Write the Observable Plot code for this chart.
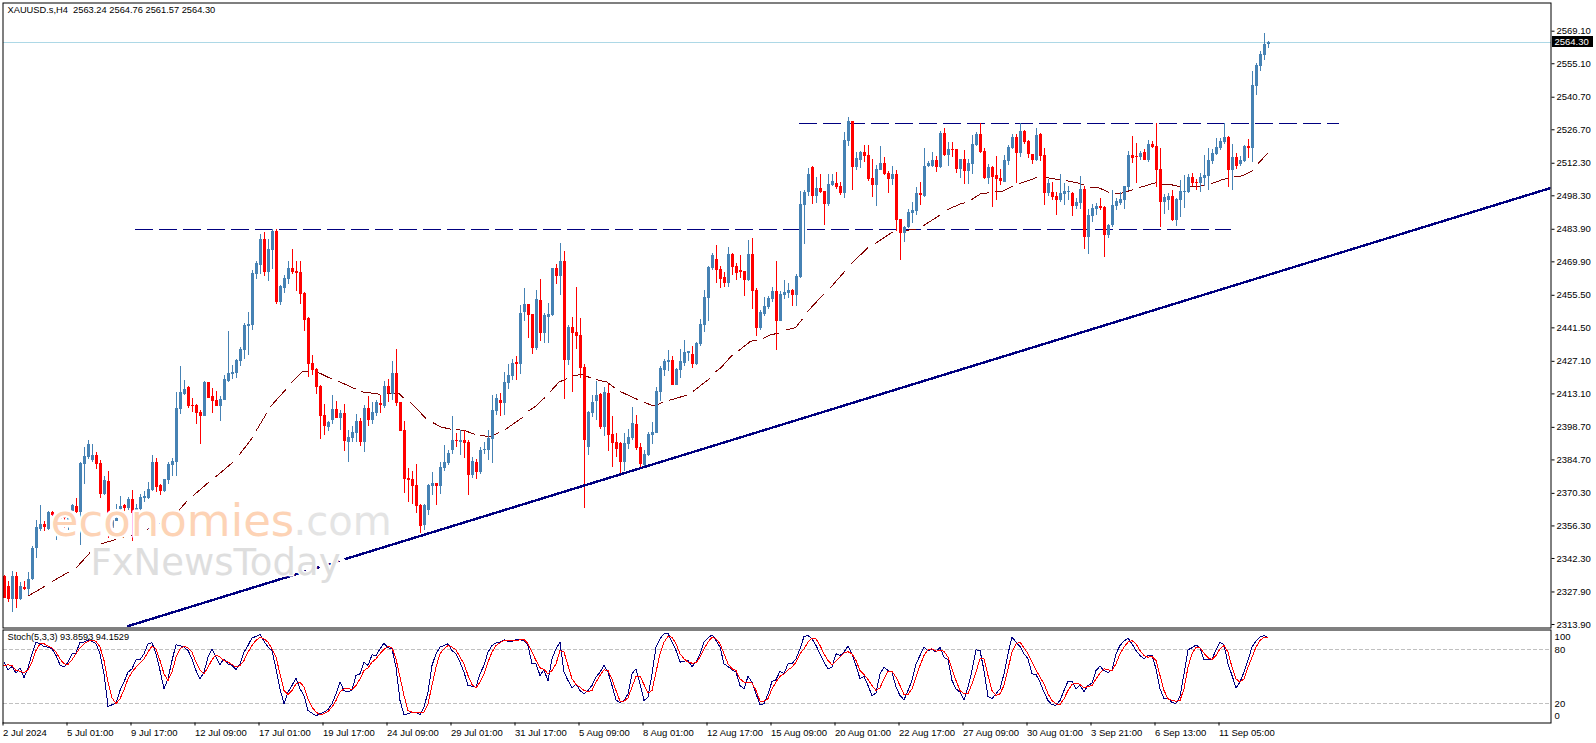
<!DOCTYPE html>
<html>
<head>
<meta charset="utf-8">
<script src="https://cdn.jsdelivr.net/npm/d3@7"></script>
<script src="https://cdn.jsdelivr.net/npm/@observablehq/plot@0.6"></script>
<style>
html,body{margin:0;padding:0;background:#fff;overflow:hidden}
#chart svg{display:block}
</style>
</head>
<body>
<div id="chart"></div>
<script>
const opens=[
2334.4,2330.3,2324.8,2334.7,2324.5,2329.9,2329.1,2333.1,2346.4,2354.9,
2357.0,2354.9,2362.2,2355.1,2359.2,2359.9,2358.0,2362.3,2364.7,2361.9,
2382.7,2385.8,2384.4,2386.7,2383.2,2369.8,2375.5,2355.1,2358.4,2363.3,
2364.9,2363.7,2367.7,2361.6,2363.3,2368.0,2368.0,2371.6,2383.7,2373.5,
2371.2,2375.9,2382.4,2383.8,2406.5,2413.0,2415.9,2408.2,2408.2,2405.2,
2403.4,2418.1,2412.0,2410.3,2407.7,2410.3,2418.5,2421.5,2421.9,2427.1,
2431.8,2442.1,2442.6,2464.5,2468.4,2479.5,2465.3,2474.8,2483.0,2452.4,
2458.5,2462.3,2467.1,2465.8,2465.3,2456.3,2445.6,2426.2,2423.6,2416.3,
2403.9,2398.7,2401.7,2406.5,2402.6,2404.7,2392.3,2394.0,2396.1,2401.3,
2392.3,2406.9,2401.7,2404.7,2409.0,2407.7,2416.3,2412.9,2421.9,2409.5,
2397.4,2376.8,2376.4,2373.8,2365.2,2356.6,2363.0,2373.3,2374.6,2373.3,
2381.1,2383.2,2388.8,2393.1,2392.3,2393.1,2392.3,2378.1,2383.7,2379.4,
2388.8,2388.8,2393.6,2405.6,2410.3,2409.0,2417.6,2420.6,2426.7,2425.8,
2448.2,2451.6,2447.3,2432.7,2453.3,2439.1,2446.0,2446.9,2467.1,2463.6,
2470.1,2427.5,2441.7,2439.5,2438.3,2424.5,2390.1,2404.7,2409.9,2412.9,
2398.7,2413.3,2395.7,2392.3,2391.8,2383.7,2391.4,2394.0,2400.0,2390.1,
2382.4,2386.7,2395.3,2396.1,2413.7,2423.2,2426.6,2427.5,2416.8,2423.2,
2426.2,2430.5,2430.1,2425.8,2434.4,2442.6,2454.2,2467.1,2470.9,2466.6,
2463.2,2460.6,2473.1,2467.9,2466.2,2465.8,2461.9,2473.1,2457.6,2441.3,
2447.3,2450.3,2453.7,2457.2,2444.3,2455.5,2456.3,2457.6,2455.5,2463.2,
2494.2,2499.7,2510.5,2498.0,2501.5,2500.2,2494.6,2502.8,2503.6,2502.3,
2499.3,2521.7,2530.3,2510.5,2513.5,2516.9,2515.7,2505.8,2502.8,2509.2,
2512.2,2507.9,2505.3,2507.5,2488.1,2482.1,2484.7,2490.7,2491.6,2499.3,
2498.0,2510.9,2510.9,2513.5,2510.5,2525.1,2515.7,2518.2,2518.2,2509.6,
2513.9,2508.8,2511.8,2520.0,2524.7,2517.4,2505.8,2510.5,2507.1,2505.8,
2504.0,2513.1,2518.7,2523.4,2516.5,2526.0,2521.7,2516.1,2513.5,2524.7,
2515.7,2499.3,2499.8,2498.0,2496.3,2498.9,2499.8,2499.3,2493.7,2495.0,
2501.0,2480.4,2489.4,2492.4,2493.7,2493.3,2481.3,2485.6,2493.7,2495.0,
2496.3,2501.9,2515.7,2515.2,2514.8,2516.9,2513.5,2520.4,2519.5,2509.6,
2495.5,2496.3,2498.0,2487.7,2496.3,2499.8,2499.8,2506.2,2504.1,2503.6,
2505.8,2506.6,2513.1,2516.1,2518.7,2521.2,2523.4,2509.2,2514.8,2511.8,
2513.1,2519.5,2518.7,2545.3,2553.9,2558.7,2563.24];
const highs=[
2335,2332.5,2336.8,2336.1,2331.8,2332.2,2336.1,2347.6,2358.7,2365.2,
2358.2,2362.6,2362.6,2360.9,2360.2,2360.9,2361.6,2365.5,2368.0,2383.8,
2390.0,2393.1,2391.4,2387.7,2384.5,2377.6,2379.8,2360.9,2365.6,2369.0,
2365.6,2368.5,2371.6,2365.6,2369.8,2371.3,2374.9,2386.5,2385.2,2374.1,
2376.4,2383.4,2385.1,2413.5,2424.9,2418.9,2416.3,2411.2,2408.5,2406.0,
2418.5,2418.1,2415.3,2414.2,2412.0,2421.1,2440.0,2425.4,2427.9,2433.1,
2443.4,2448.1,2466.2,2470.1,2481.7,2482.5,2479.5,2483.7,2483.7,2459.8,
2464.1,2470.1,2475.2,2470.1,2470.1,2456.7,2446.0,2429.7,2424.1,2416.8,
2408.6,2401.3,2412.5,2409.9,2406.0,2408.6,2397.4,2399.1,2404.3,2402.6,
2408.2,2412.0,2409.5,2410.3,2412.5,2418.5,2419.3,2427.1,2432.2,2409.5,
2401.3,2381.1,2379.8,2382.8,2365.5,2365.6,2374.2,2379.4,2374.6,2383.7,
2391.0,2388.8,2403.4,2396.1,2397.4,2397.4,2393.1,2385.8,2384.9,2390.1,
2392.3,2397.4,2412.5,2412.9,2413.3,2422.4,2425.8,2427.9,2429.2,2451.2,
2458.5,2451.6,2447.3,2457.6,2462.3,2447.7,2452.0,2467.1,2468.8,2477.8,
2474.4,2442.6,2446.0,2458.9,2445.6,2425.8,2405.6,2412.5,2418.5,2413.3,
2415.9,2417.2,2403.4,2396.1,2392.3,2396.1,2397.9,2407.3,2403.9,2391.8,
2388.8,2396.6,2400.8,2415.9,2424.9,2427.9,2431.8,2429.2,2424.1,2432.2,
2436.1,2431.4,2433.5,2435.2,2445.2,2457.6,2467.9,2473.5,2477.0,2467.9,
2465.4,2476.1,2473.5,2469.2,2472.7,2465.8,2479.1,2480.0,2458.5,2449.0,
2454.6,2455.0,2458.9,2470.1,2457.2,2461.9,2460.6,2458.0,2464.5,2500.2,
2500.6,2510.1,2510.9,2506.2,2507.5,2500.2,2507.5,2507.5,2508.3,2504.0,
2525.5,2532.0,2530.3,2516.9,2517.4,2520.0,2520.0,2513.9,2511.4,2519.5,
2514.8,2508.8,2510.9,2509.2,2488.1,2485.1,2492.4,2495.5,2501.9,2504.0,
2518.7,2513.1,2516.9,2515.2,2526.0,2527.3,2521.2,2521.2,2518.2,2514.0,
2517.8,2513.9,2524.3,2525.5,2529.3,2518.7,2511.8,2510.9,2515.2,2509.6,
2515.7,2520.0,2524.7,2524.7,2529.3,2526.4,2522.1,2516.1,2527.3,2525.1,
2518.7,2505.3,2504.0,2499.8,2507.5,2503.6,2502.3,2499.8,2497.2,2506.6,
2502.3,2492.4,2494.6,2495.0,2497.2,2493.7,2486.0,2500.6,2497.2,2499.8,
2502.3,2517.4,2523.8,2520.8,2517.4,2518.2,2522.1,2521.7,2529.4,2518.7,
2498.9,2499.3,2500.6,2497.2,2504.9,2507.1,2507.5,2507.9,2505.3,2507.9,
2515.7,2518.7,2518.2,2523.0,2523.0,2529.4,2523.8,2520.4,2516.5,2515.2,
2520.0,2522.5,2551.8,2555.2,2560.4,2568.1,2564.76];
const lows=[
2325,2323.2,2318.9,2321.0,2324.3,2328.4,2326.5,2332.9,2342.4,2353.7,
2353.7,2354.4,2360.4,2350.1,2358.7,2355.1,2354.4,2361.6,2361.6,2348.0,
2374.2,2384.8,2383.8,2380.5,2368.3,2369.5,2350.8,2355.1,2358.0,2363.0,
2358.0,2363.0,2349.4,2360.9,2362.7,2366.2,2367.6,2371.3,2370.5,2369.6,
2370.5,2374.2,2377.6,2377.6,2404.3,2412.5,2406.9,2405.2,2400.0,2391.4,
2403.4,2410.9,2404.7,2407.7,2401.3,2410.3,2418.2,2419.3,2419.8,2424.9,
2427.9,2429.7,2440.4,2462.3,2464.5,2463.6,2461.5,2466.6,2451.6,2451.2,
2456.3,2460.2,2464.5,2457.2,2451.6,2440.0,2420.2,2421.1,2412.9,2393.6,
2395.3,2397.0,2400.0,2402.6,2397.4,2388.4,2383.7,2392.3,2392.3,2390.5,
2388.0,2399.1,2400.0,2403.4,2404.7,2406.9,2409.5,2410.3,2407.7,2397.0,
2370.3,2366.5,2365.6,2361.7,2353.2,2354.4,2360.9,2369.5,2365.2,2369.9,
2379.8,2382.4,2387.1,2390.1,2386.7,2385.4,2369.5,2376.8,2376.4,2378.5,
2387.1,2384.5,2383.2,2403.9,2403.4,2403.9,2415.0,2418.9,2418.9,2421.5,
2444.3,2437.0,2430.1,2431.8,2435.7,2434.8,2434.8,2446.4,2460.2,2455.5,
2410.7,2425.4,2413.8,2432.2,2419.8,2363.9,2386.7,2403.0,2401.7,2397.9,
2394.8,2388.4,2381.5,2385.8,2378.9,2379.8,2389.3,2393.1,2388.8,2381.1,
2381.6,2386.2,2391.4,2396.0,2409.9,2420.6,2422.8,2416.8,2416.8,2419.8,
2424.9,2427.1,2424.1,2425.4,2433.5,2439.6,2444.3,2466.2,2460.6,2458.5,
2458.9,2458.9,2464.1,2461.9,2462.8,2455.0,2461.5,2449.5,2437.8,2440.4,
2446.4,2449.4,2452.5,2431.8,2444.3,2453.7,2454.2,2450.7,2450.7,2462.8,
2477.4,2498.0,2494.6,2495.0,2499.3,2485.6,2493.7,2502.3,2501.0,2498.5,
2497.2,2519.5,2500.6,2509.2,2510.1,2512.6,2504.5,2497.6,2493.7,2509.2,
2507.1,2499.3,2502.8,2483.0,2470.5,2478.3,2484.3,2486.4,2489.9,2494.2,
2497.6,2510.5,2510.5,2508.3,2510.1,2515.2,2510.9,2514.8,2507.9,2505.8,
2503.2,2503.2,2507.5,2519.5,2516.5,2505.3,2503.2,2493.3,2496.3,2502.8,
2504.0,2511.4,2518.2,2503.6,2514.8,2520.4,2514.4,2511.8,2513.1,2513.1,
2494.2,2498.0,2496.3,2489.9,2495.5,2494.2,2496.3,2489.4,2492.4,2492.4,
2475.3,2473.1,2486.9,2489.9,2492.0,2471.8,2480.0,2484.7,2492.0,2494.2,
2492.4,2500.6,2512.2,2503.6,2513.5,2513.5,2512.7,2518.7,2501.9,2484.7,
2490.3,2492.0,2487.3,2485.1,2489.0,2492.9,2499.3,2502.3,2500.6,2499.8,
2502.3,2500.6,2511.8,2515.7,2517.8,2520.4,2501.9,2500.6,2509.6,2510.9,
2512.7,2514.4,2512.7,2541.4,2551.8,2556.5,2561.57];
const closes=[
2325.1,2324.8,2334.7,2324.6,2330.1,2329.1,2333.4,2346.7,2355.7,2357.0,
2355.6,2362.2,2360.9,2359.4,2359.9,2359.3,2360.2,2365.2,2362.0,2383.1,
2386.0,2391.4,2386.5,2382.8,2370.0,2375.9,2361.6,2358.7,2359.4,2364.7,
2363.7,2367.7,2361.6,2364.0,2368.6,2368.8,2372.0,2383.7,2372.8,2370.9,
2376.4,2382.8,2384.1,2406.9,2413.8,2414.9,2407.7,2407.7,2404.6,2403.4,
2418.1,2411.2,2409.9,2407.7,2410.7,2419.3,2421.9,2422.4,2427.5,2432.2,
2442.6,2443.0,2464.9,2469.2,2479.5,2465.3,2475.2,2483.0,2452.4,2459.3,
2462.8,2467.1,2465.3,2464.9,2455.9,2444.7,2425.8,2423.2,2415.9,2403.4,
2399.1,2400.6,2406.5,2402.6,2404.7,2392.7,2394.4,2396.6,2401.3,2392.3,
2406.9,2401.7,2405.2,2409.5,2408.2,2416.3,2413.3,2421.9,2409.0,2397.0,
2376.4,2375.9,2373.3,2364.7,2356.1,2365.2,2373.8,2374.6,2373.3,2381.5,
2383.7,2387.5,2393.1,2392.7,2393.1,2391.8,2378.1,2384.1,2379.4,2388.8,
2389.3,2394.0,2406.0,2411.2,2409.0,2418.1,2421.1,2426.2,2425.8,2447.7,
2451.6,2446.9,2432.7,2453.7,2439.1,2446.9,2447.3,2467.1,2463.6,2470.1,
2427.5,2441.7,2439.1,2437.8,2424.1,2393.1,2405.2,2409.5,2412.5,2398.7,
2413.8,2395.3,2391.8,2389.3,2383.7,2391.8,2394.4,2400.4,2389.7,2382.8,
2387.1,2395.7,2396.6,2414.2,2424.1,2427.1,2427.5,2416.8,2423.6,2427.1,
2430.9,2431.4,2425.8,2434.8,2443.0,2454.6,2467.5,2472.7,2466.2,2462.3,
2460.6,2473.1,2467.5,2464.9,2465.4,2461.9,2473.1,2457.2,2441.3,2448.2,
2450.7,2454.2,2457.2,2444.3,2455.9,2456.8,2457.6,2455.5,2463.6,2494.6,
2499.7,2507.5,2498.0,2501.5,2499.7,2494.6,2503.2,2504.5,2501.9,2499.3,
2522.1,2530.3,2510.5,2514.4,2516.9,2515.2,2505.3,2502.8,2509.6,2512.2,
2507.5,2505.3,2507.5,2487.7,2482.1,2484.7,2491.1,2492.0,2499.3,2498.5,
2510.9,2512.2,2513.5,2510.5,2525.1,2515.7,2518.2,2517.8,2509.6,2513.9,
2508.8,2512.2,2520.4,2524.7,2516.9,2505.8,2510.5,2506.2,2505.3,2504.5,
2513.5,2519.1,2523.4,2516.5,2526.0,2521.2,2516.1,2513.5,2524.3,2515.2,
2499.3,2503.6,2497.6,2496.3,2499.3,2500.2,2500.2,2493.7,2495.5,2501.0,
2480.4,2489.9,2492.9,2493.7,2492.9,2481.3,2485.6,2494.2,2495.9,2496.7,
2502.3,2515.7,2514.4,2514.8,2516.5,2513.5,2520.4,2519.1,2509.2,2495.5,
2497.6,2498.0,2487.7,2496.7,2500.2,2500.2,2506.2,2503.6,2503.6,2506.2,
2507.1,2513.5,2516.5,2519.1,2521.7,2523.4,2509.2,2514.8,2510.9,2513.5,
2519.5,2518.7,2545.8,2554.4,2559.1,2563.4,2564.30];

const maIndex=[6,10.25,null,12.1,16.25,null,18,21.5,null,24.4,27.9,null,29.6,30,null,31.8,32.4,null,35.8,37.3,null,38.75,39.4,null,43.75,45.7,null,47.3,51.25,null,52.9,57.3,null,58.75,62.1,null,63.1,65.6,null,66.5,70.4,null,71.8,74.6,76,null,77.9,79.2,81.8,null,83.5,87.9,null,89.4,91.7,94,null,95.8,98.75,99.8,null,101.5,105.5,null,107.25,109.2,111.7,null,113.2,115,117.7,null,119.2,121.7,123.6,null,125.25,129.6,null,131,132.5,135.2,null,136.5,138.75,140.7,null,142.1,144.3,146.7,null,148.2,150.7,152.7,null,154.2,158.5,null,160.2,162.5,164.6,null,166.25,170.6,null,172.25,176.4,null,177.75,179.2,181,182.1,null,183.75,186.7,188.2,null,189.75,191.25,193.75,null,195.7,197.9,199.6,null,200.8,204.8,null,206.5,210.25,null,211.8,216,null,217.75,222.1,null,225.4,228,null,229.8,234,null,235.8,239.2,240.2,null,241.8,244.2,246.2,null,247.75,249.3,252.1,null,253.75,256.25,258.2,null,260.4,264,null,265.7,268.3,270,null,271.7,273.6,276.1,null,277.7,279.6,282.1,null,283.75,287.9,null,289.6,291.25,294,null,296.5,300,null,301.8,305,306,null,307.7,309.6,312.1,null,313.5,315.8];
const maPrice=[2326.1,2330.4,null,2332.5,2336.5,null,2338.2,2344.8,null,2348.7,2350.4,null,2351.3,2351.4,null,2352.3,2352.6,null,2354.7,2356.2,null,2357.2,2357.4,null,2363.0,2366.9,null,2369.3,2375.2,null,2377.4,2383.8,null,2386.7,2394.3,null,2397.4,2404.6,null,2407.4,2414.9,null,2417.8,2422.6,2422.8,null,2422.5,2421.8,2419.6,null,2418.6,2415.2,null,2414.0,2413.5,2412.9,null,2413.2,2413.2,2411.5,null,2409.5,2402.6,null,2400.7,2398.9,2397.9,null,2397.7,2397.4,2395.7,null,2395.3,2394.6,2396.4,null,2397.7,2402.9,null,2405.7,2407.2,2411.5,null,2413.9,2418.2,2419.6,null,2420.8,2421.5,2420.0,null,2419.2,2418.2,2415.6,null,2414.0,2410.6,null,2409.3,2407.9,2409.4,null,2410.3,2412.5,null,2414.2,2419.6,null,2422.5,2424.3,2427.8,2429.7,null,2431.8,2435.8,2436.1,null,2436.8,2438.3,2439.3,null,2440.7,2441.6,2445.3,null,2448.4,2455.8,null,2458.6,2465.9,null,2469.1,2476.0,null,2477.7,2482.7,null,2483.4,2484.0,null,2485.4,2490.0,null,2492.3,2494.9,2495.3,null,2496.6,2499.2,2499.6,null,2500.0,2500.0,2502.3,null,2503.5,2504.9,2506.2,null,2506.2,2505.2,null,2504.8,2503.9,2503.0,null,2501.8,2501.8,2499.9,null,2499.5,2499.5,2500.9,null,2501.8,2503.9,null,2503.3,2503.3,2502.2,null,2502.3,2502.6,null,2503.5,2505.5,2505.6,null,2506.5,2506.9,2509.1,null,2512.1,2516.4];

const stochMain=[
66.3,57.8,61.5,54.1,60.0,48.9,60.0,75.6,88.5,86.7,
83.7,83.0,81.1,73.7,63.3,60.7,66.3,75.6,76.3,88.5,
88.5,91.1,89.6,86.7,75.6,53.3,17.0,18.9,20.7,34.8,
44.1,55.2,58.9,68.9,68.9,75.6,86.7,87.8,75.6,57.0,
36.7,47.8,68.1,85.6,84.8,83.0,79.3,70.0,57.0,47.8,
55.2,71.8,81.1,71.8,63.7,70.0,64.4,62.6,58.1,64.4,
77.4,84.8,93.3,94.8,97.0,89.6,83.0,79.3,58.9,36.7,
20.0,33.0,40.4,48.5,36.7,29.2,12.6,9.6,6.7,8.9,
10.7,13.7,20.0,31.1,44.1,34.8,33.0,35.5,51.5,53.3,
66.3,62.6,74.4,73.7,81.1,87.4,82.2,81.1,60.7,23.7,
7.8,8.9,10.7,10.7,7.8,16.3,33.0,62.6,75.6,83.0,
84.8,86.7,79.3,75.6,66.3,55.2,40.4,39.6,38.5,53.3,
62.6,77.4,84.8,87.8,88.5,91.1,89.6,89.6,91.1,91.1,
90.4,84.8,64.4,64.4,51.5,57.8,45.2,70.0,81.1,88.5,
55.2,45.9,37.8,42.2,34.8,31.1,34.8,40.4,49.6,55.2,
62.6,55.2,40.4,24.4,21.1,23.7,31.1,53.3,58.9,42.2,
23.7,27.4,53.3,83.0,92.2,97.8,98.5,88.5,79.3,66.3,
67.4,68.1,61.5,66.3,75.6,88.5,93.3,96.7,90.4,83.0,
64.4,61.5,57.8,55.2,40.4,36.7,50.4,44.1,31.1,18.9,
20.0,31.1,44.8,46.7,56.3,53.3,64.4,64.4,70.0,81.1,
94.8,95.9,92.2,84.8,75.6,66.3,58.9,60.7,75.6,73.7,
77.4,84.1,75.6,62.6,47.8,50.4,40.4,29.2,31.8,53.3,
60.7,57.0,55.2,38.5,29.2,24.4,34.8,45.9,64.4,73.7,
83.0,78.5,81.1,77.4,83.0,71.8,68.9,45.9,36.7,33.0,
24.4,38.5,57.0,80.0,79.3,57.0,28.1,25.6,31.1,36.7,
53.3,75.6,94.1,88.5,83.7,75.6,70.0,53.3,52.6,44.1,
33.0,23.7,18.9,18.5,23.7,34.8,45.2,45.2,36.7,40.4,
33.7,40.4,43.0,57.0,61.8,57.0,54.8,57.8,75.6,84.8,
89.6,92.9,86.7,79.3,73.7,70.0,73.7,73.7,58.9,36.7,
25.6,26.7,21.1,20.7,28.1,53.3,80.0,82.2,85.6,82.2,
68.9,68.9,69.3,80.0,88.5,85.6,64.4,51.5,37.8,44.1,
55.2,68.1,83.0,89.6,94.1,95.9,93.86];
const stochSignal=[
62.6,63.3,62.6,57.0,56.3,54.1,57.8,66.3,79.3,86.7,
86.7,84.1,81.8,77.4,70.0,64.4,63.7,68.9,75.6,82.2,
86.7,89.6,90.4,89.6,83.0,68.1,44.1,26.7,20.0,25.6,
35.5,47.8,55.2,60.7,65.2,70.0,77.4,84.1,81.1,68.1,
53.3,45.9,55.2,71.8,81.1,83.7,82.2,77.4,66.3,57.8,
53.3,60.7,68.9,74.4,71.8,68.1,66.3,63.7,60.7,62.6,
68.1,77.4,84.8,90.4,94.1,92.2,88.5,81.1,71.8,53.3,
34.8,30.4,34.8,42.2,44.1,38.5,25.6,16.3,10.7,8.1,
8.9,11.5,16.3,23.7,33.0,36.7,37.4,35.5,40.4,47.8,
57.0,60.0,66.3,70.0,75.6,80.4,83.7,82.2,70.0,49.6,
29.2,12.6,10.7,10.4,10.4,10.7,20.0,40.4,60.7,75.6,
81.1,84.8,83.0,80.0,71.8,64.4,51.5,41.5,37.8,44.1,
53.3,66.3,77.4,84.8,87.8,90.4,90.0,90.0,90.4,91.1,
91.5,86.7,77.4,68.1,60.0,58.1,53.3,57.0,64.4,79.3,
77.4,62.6,47.8,41.5,38.5,34.8,33.7,34.8,44.1,51.5,
57.8,57.0,47.8,34.8,22.9,22.9,26.7,38.5,50.7,50.7,
41.5,31.8,34.8,55.2,75.6,88.5,94.8,94.1,86.7,75.6,
70.0,66.3,65.2,65.5,71.8,81.1,88.5,94.1,92.2,86.7,
75.6,64.4,58.9,57.0,47.8,44.1,43.3,43.3,34.8,22.9,
22.9,25.6,36.7,44.1,50.4,53.3,57.8,60.7,66.3,75.6,
81.1,88.5,93.0,92.2,84.8,75.6,68.1,63.3,67.4,71.8,
76.3,77.8,75.6,68.1,57.0,52.6,47.0,40.4,34.8,37.8,
47.8,56.3,56.3,49.6,40.4,30.4,30.4,36.7,49.6,62.6,
73.7,80.0,81.1,78.5,79.3,78.5,71.8,58.9,45.9,34.8,
31.1,31.1,42.2,55.2,70.0,70.0,51.5,34.8,29.2,31.1,
40.4,58.9,77.4,86.7,88.5,82.2,75.6,66.3,57.8,49.6,
42.2,31.1,23.7,20.0,19.3,25.6,34.8,41.5,43.0,41.5,
37.8,39.2,40.4,47.8,54.1,58.9,57.8,57.0,64.4,75.6,
83.0,88.5,90.4,86.7,79.3,73.7,71.8,72.6,68.1,51.5,
34.8,25.6,23.7,22.9,23.7,36.7,60.7,75.6,83.0,82.2,
76.3,71.1,69.3,73.7,81.1,84.8,77.4,60.7,47.8,44.1,
47.8,60.7,71.8,83.0,90.4,94.1,94.15];

const priceTicks=[2569.10,2555.10,2540.70,2526.70,2512.30,2498.30,2483.90,2469.90,2455.50,2441.50,2427.10,2413.10,2398.70,2384.70,2370.30,2356.30,2342.30,2327.90,2313.90];
const stochLevels=[80,20];
const timeTickIndex=[0,16,32,48,64,80,96,112,128,144,160,176,192,208,224,240,256,272,288,304];
const timeTickLabels=["2 Jul 2024","5 Jul 01:00","9 Jul 17:00","12 Jul 09:00","17 Jul 01:00","19 Jul 17:00","24 Jul 09:00","29 Jul 01:00","31 Jul 17:00","5 Aug 09:00","8 Aug 01:00","12 Aug 17:00","15 Aug 09:00","20 Aug 01:00","22 Aug 17:00","27 Aug 09:00","30 Aug 01:00","3 Sep 21:00","6 Sep 13:00","11 Sep 05:00"];

const trendIndex=[31,73.6,null,74.9,75.4,null,77.4,78.6,null,80.4,81.4,null,83.1,83.6,null,85.4,386.75];
const trendPrice=[2313.2,2335.8,null,2336.5,2336.8,null,2337.8,2338.5,null,2339.4,2339.9,null,2340.9,2341.2,null,2342.1,2501.7];
const resistanceLevel=2529.3, resistanceFrom=198.9, resistanceTo=333.9;
const supportLevel=2483.7, supportFrom=32.9, supportTo=306.9;
const lastPrice=2564.30;

const FONT='"Liberation Sans",Arial,sans-serif';
const MARK='"DejaVu Sans",sans-serif';
const BLUE="#4682b4", RED="#ff0000", NAVY="#000080", MAROON="#800000";
const xDomain=[-0.25,386.75];
const idx=d3.range(opens.length);
const candleColor=i=>closes[i]>=opens[i]?BLUE:RED;
const labelOf=new Map(timeTickIndex.map((t,i)=>[t,timeTickLabels[i]]));
const baseStyle={fontFamily:FONT,fontSize:"9.5px",background:"#fff",overflow:"visible",color:"#000"};

const pricePlot=Plot.plot({
  width:1596,height:628,
  marginLeft:2.5,marginRight:45.5,marginTop:2.5,marginBottom:0.5,
  style:baseStyle,
  x:{type:"linear",domain:xDomain,axis:null},
  y:{type:"linear",domain:[2312.4,2581.23],axis:null},
  marks:[
    Plot.ruleY([lastPrice],{stroke:"#add8e6",strokeWidth:1,shapeRendering:"crispEdges"}),
    Plot.ruleY([resistanceLevel],{x1:resistanceFrom,x2:resistanceTo,stroke:NAVY,strokeWidth:1,strokeDasharray:"18,6",shapeRendering:"crispEdges"}),
    Plot.ruleY([supportLevel],{x1:supportFrom,x2:supportTo,stroke:NAVY,strokeWidth:1,strokeDasharray:"18,6",shapeRendering:"crispEdges"}),
    Plot.line(maIndex.map((_,i)=>i),{x:i=>maIndex[i],y:i=>maPrice[i],stroke:MAROON,strokeWidth:1,shapeRendering:"crispEdges"}),
    Plot.ruleX(idx,{x:i=>i,y1:i=>lows[i],y2:i=>highs[i],stroke:candleColor,strokeWidth:1,shapeRendering:"crispEdges",clip:"frame"}),
    Plot.ruleX(idx,{x:i=>i,y1:i=>opens[i],y2:i=>closes[i],stroke:candleColor,strokeWidth:3,shapeRendering:"crispEdges",clip:"frame"}),
    Plot.line(trendIndex.map((_,i)=>i),{x:i=>trendIndex[i],y:i=>trendPrice[i],stroke:NAVY,strokeWidth:2.4,shapeRendering:"crispEdges",clip:"frame"}),
    Plot.text(["economies"],{x:[11.7],y:[2358.3],text:d=>d,textAnchor:"start",fontFamily:MARK,fontSize:45,fill:"#fdd3b5",stroke:"#fff",strokeWidth:5,paintOrder:"stroke"}),
    Plot.text([".com"],{x:[72.4],y:[2357.8],text:d=>d,textAnchor:"start",fontFamily:MARK,fontSize:40,fill:"#e4e4e4",stroke:"#fff",strokeWidth:5,paintOrder:"stroke"}),
    Plot.text(["FxNewsToday"],{x:[21.6],y:[2340.1],text:d=>d,textAnchor:"start",fontFamily:MARK,fontSize:37,fill:"#dedede",stroke:"#fff",strokeWidth:3,paintOrder:"stroke"}),
    Plot.frame({stroke:"#000",strokeWidth:1}),
    Plot.axisY(priceTicks,{anchor:"right",tickSize:3,tickPadding:2.5,label:null,tickFormat:d=>d.toFixed(2),stroke:"#000",fill:"#000",fontSize:9.5,fontFamily:FONT}),
    Plot.rect([lastPrice],{x1:[387.2],x2:[397.4],y1:d=>d-2.4,y2:d=>d+2.4,fill:"#000",shapeRendering:"crispEdges"}),
    Plot.text([lastPrice],{x:[387.6],y:d=>d,text:d=>d.toFixed(2),textAnchor:"start",fill:"#fff",fontSize:9.5,fontFamily:FONT}),
    Plot.text(["XAUUSD.s,H4  2563.24 2564.76 2561.57 2564.30"],{frameAnchor:"top-left",dx:4.5,dy:3,textAnchor:"start",lineAnchor:"top",text:d=>d,fontSize:9.3,fill:"#000",fontFamily:FONT})
  ]
});

const stochPlot=Plot.plot({
  width:1596,height:115,
  marginLeft:2.5,marginRight:45.5,marginTop:1.5,marginBottom:20.5,
  style:baseStyle,
  x:{type:"linear",domain:xDomain,axis:null},
  y:{type:"linear",domain:[-1.33,102],axis:null},
  marks:[
    Plot.ruleY(stochLevels,{stroke:"#c0c0c0",strokeWidth:1,strokeDasharray:"4,2",shapeRendering:"crispEdges"}),
    Plot.line(stochMain,{x:(d,i)=>i,y:d=>d,stroke:NAVY,strokeWidth:1,shapeRendering:"crispEdges"}),
    Plot.line(stochSignal,{x:(d,i)=>i,y:d=>d,stroke:RED,strokeWidth:1,shapeRendering:"crispEdges"}),
    Plot.frame({stroke:"#000",strokeWidth:1}),
    Plot.axisX(timeTickIndex,{anchor:"bottom",tickSize:3,tickPadding:3,label:null,textAnchor:"start",dx:-1,tickFormat:d=>labelOf.get(d),stroke:"#000",fill:"#000",fontSize:9.5,fontFamily:FONT}),
    Plot.text(stochLevels,{x:[386.9,386.9],y:d=>d,text:d=>String(d),textAnchor:"start",fill:"#000",fontSize:9.5,fontFamily:FONT,dx:3}),
    Plot.text([100],{x:[386.9],y:d=>d,text:d=>String(d),textAnchor:"start",fill:"#000",fontSize:9.5,fontFamily:FONT,dx:3,dy:5.4}),
    Plot.text([0],{x:[386.9],y:d=>d,text:d=>String(d),textAnchor:"start",fill:"#000",fontSize:9.5,fontFamily:FONT,dx:3,dy:-6}),
    Plot.text(["Stoch(5,3,3) 93.8593 94.1529"],{frameAnchor:"top-left",dx:4.5,dy:3,textAnchor:"start",lineAnchor:"top",text:d=>d,fontSize:9.2,fill:"#000",fontFamily:FONT})
  ]
});

const holder=document.getElementById("chart");
holder.append(pricePlot,stochPlot);
</script>
</body>
</html>
